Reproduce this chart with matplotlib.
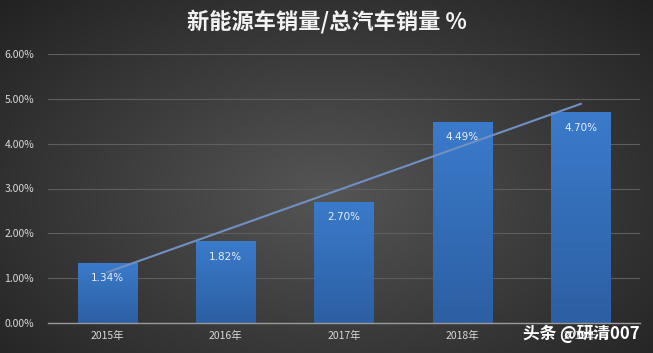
import numpy as np
import matplotlib
matplotlib.use("Agg")
import matplotlib.pyplot as plt
from matplotlib.colors import LinearSegmentedColormap

plt.rcParams['font.family'] = ['Noto Sans CJK SC', 'DejaVu Sans']

years = ["2015年", "2016年", "2017年", "2018年", "2019年"]
values = [1.34, 1.82, 2.70, 4.49, 4.70]
labels = ["1.34%", "1.82%", "2.70%", "4.49%", "4.70%"]
yticks = [0, 1, 2, 3, 4, 5, 6]
ytick_labels = ["0.00%", "1.00%", "2.00%", "3.00%", "4.00%", "5.00%", "6.00%"]
title = "新能源车销量/总汽车销量 %"

W, H = 653, 353
fig = plt.figure(figsize=(W / 100, H / 100), dpi=100)

# background radial gradient
bg = fig.add_axes([0, 0, 1, 1])
yy, xx = np.mgrid[0:1:300j, 0:1:600j]
r = np.sqrt(((xx - 0.5) / 0.7) ** 2 + ((yy - 0.45) / 0.8) ** 2)
r = np.clip(r, 0, 1)
bgcmap = LinearSegmentedColormap.from_list("bg", ["#555555", "#3b3b3b", "#222222"])
bg.imshow(r, cmap=bgcmap, aspect="auto", extent=[0, 1, 0, 1], origin="lower")
bg.set_axis_off()

ax = fig.add_axes([48 / W, 30 / H, 592 / W, 269 / H])
ax.set_facecolor("none")
x = np.arange(len(years))

ax.set_yticks(yticks)
ax.set_yticklabels(ytick_labels)
ax.set_xticks(x)
ax.set_xticklabels(years)
ax.tick_params(axis="both", length=0, colors="#d8d8d8", labelsize=7.5)
ax.tick_params(axis="y", pad=10)
ax.tick_params(axis="x", pad=6)
ax.grid(axis="y", color="#5e5e5e", linewidth=0.8)
ax.set_axisbelow(True)
for s in ["top", "right", "left"]:
    ax.spines[s].set_visible(False)
ax.spines["bottom"].set_color("#9a9a9a")
ax.spines["bottom"].set_linewidth(1.0)

bars = ax.bar(x, values, width=0.5, color="#3470bd", zorder=2)
barcmap = LinearSegmentedColormap.from_list("bar", ["#2c5fa3", "#3b7bcb"])
grad = np.linspace(0, 1, 256).reshape(-1, 1)
for b in bars:
    bx, by = b.get_x(), b.get_y()
    bw, bh = b.get_width(), b.get_height()
    im = ax.imshow(grad, cmap=barcmap, aspect="auto", origin="lower",
                   extent=[bx, bx + bw, by, by + bh], zorder=2.1)
    im.set_clip_path(b)
ax.set_xlim(-0.5, len(years) - 0.5)
ax.set_ylim(0, 6)

for xi, v, lab in zip(x, values, labels):
    ax.annotate(lab, (xi, v), xytext=(0, -11), textcoords="offset points",
                ha="center", va="center", color="#e8eef8", fontsize=7.5,
                family=["DejaVu Sans"], zorder=4)

coef = np.polyfit(x, values, 1)
ax.plot(x, np.polyval(coef, x), color="#7090c2", linewidth=1.5, zorder=3)

fig.text(0.5, 1 - 22 / H, title, ha="center", va="center", color="#f2f2f2",
         fontsize=16, fontweight="bold")
fig.text(640 / W, 1 - 334 / H, "头条 @研清007", ha="right", va="center",
         color="#ffffff", fontsize=12, fontweight="bold")

fig.savefig("out.png", dpi=100)
